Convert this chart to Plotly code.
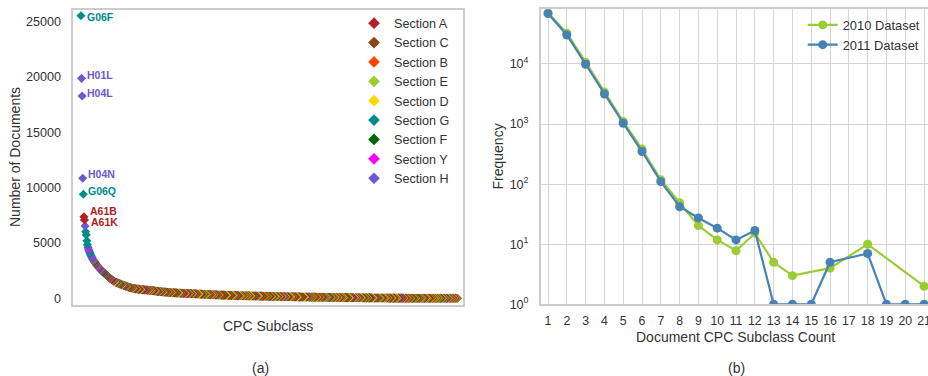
import plotly.graph_objects as go

# ---------------- data: panel (a) ----------------
subclass_counts = [
    25540, 19880, 18280, 10845, 9400, 7375, 7075, 6530, 6010, 5720, 5200, 4850, 4600, 4420, 4260, 4120, 4010, 3870, 3760, 3640,
    3540, 3460, 3380, 3310, 3230, 3150, 3070, 2990, 2920, 2860, 2790, 2730, 2660, 2600, 2550, 2500, 2450, 2400, 2350, 2300,
    2250, 2200, 2150, 2110, 2060, 2010, 1950, 1900, 1860, 1820, 1780, 1740, 1700, 1660, 1620, 1580, 1540, 1500, 1480, 1455,
    1435, 1415, 1390, 1370, 1345, 1320, 1300, 1280, 1260, 1240, 1220, 1200, 1180, 1160, 1140, 1120, 1100, 1080, 1060, 1040,
    1020, 1000, 985, 970, 955, 940, 925, 912, 900, 890, 880, 872, 864, 856, 848, 841, 834, 827, 820, 813,
    806, 800, 794, 788, 782, 776, 770, 765, 760, 755, 752, 750, 745, 740, 735, 730, 725, 720, 715, 710,
    705, 698, 690, 683, 675, 668, 660, 653, 645, 638, 630, 623, 615, 608, 600, 596, 592, 588, 584, 580,
    576, 571, 566, 561, 556, 551, 546, 541, 536, 531, 527, 523, 519, 515, 512, 508, 505, 502, 499, 496,
    493, 490, 487, 484, 481, 478, 475, 472, 469, 466, 463, 460, 457, 454, 451, 448, 445, 442, 439, 436,
    434, 432, 430, 428, 426, 424, 422, 420, 418, 416, 414, 412, 410, 407, 404, 401, 398, 395, 392, 389,
    386, 383, 380, 377, 374, 371, 368, 365, 362, 359, 356, 353, 350, 347, 344, 341, 338, 335, 333, 331,
    329, 327, 325, 323, 321, 319, 317, 315, 313, 311, 309, 307, 305, 303, 301, 299, 297, 295, 293, 291,
    289, 287, 285, 283, 281, 279, 277, 275, 273, 271, 269, 267, 265, 263, 261, 259, 257, 255, 253, 251,
    249, 247, 245, 243, 241, 239, 237, 236, 235, 234, 233, 232, 231, 230, 229, 228, 227, 226, 225, 224,
    223, 222, 221, 220, 219, 218, 217, 216, 215, 214, 213, 212, 211, 210, 209, 208, 207, 206, 205, 204,
    203, 202, 200, 199, 198, 196, 195, 194, 192, 191, 190, 188, 187, 186, 185, 183, 182, 181, 180, 178,
    177, 176, 175, 174, 172, 171, 170, 169, 168, 167, 165, 164, 163, 162, 161, 160, 159, 158, 157, 156,
    155, 154, 153, 152, 151, 150, 149, 148, 147, 146, 145, 144, 143, 142, 141, 140, 139, 138, 137, 136,
    135, 134, 133, 132, 131, 130, 129, 129, 128, 127, 126, 125, 124, 123, 123, 122, 121, 120, 119, 118,
    117, 117, 116, 115, 114, 113, 112, 112, 111, 110, 109, 108, 107, 107, 106, 105, 104, 103, 103, 102,
    101, 100, 99, 99, 98, 97, 96, 95, 95, 94, 93, 92, 91, 91, 90, 89, 88, 87, 87, 86,
    85, 84, 84, 83, 82, 81, 80, 80, 79, 78, 77, 77, 76, 75, 74, 74, 73, 72, 71, 71,
    70, 69, 68, 68, 67, 66, 66, 65, 64, 63, 63, 62, 61, 61, 60, 59, 58, 58, 57, 56,
    56, 55, 54, 54, 53, 52, 52, 51, 50, 50, 49, 48, 48, 47, 46, 46, 45, 44, 44, 43,
    42, 42, 41, 41, 40, 39, 39, 38, 38, 37, 36, 36, 35, 35, 34, 33, 33, 32, 32, 31,
    31, 30, 30, 29, 29, 28, 28, 27, 27, 26, 26, 25, 25, 24, 24, 23, 23, 22, 22, 21,
    21, 21, 20, 20, 19, 19, 19, 18, 18, 17, 17, 17, 16, 16, 16, 15, 15, 15, 14, 14,
    14, 13, 13, 13, 12, 12, 12, 12, 11, 11, 11, 10, 10, 10, 10, 9, 9, 9, 9, 8,
    8, 8, 8, 8, 7, 7, 7, 7, 7, 6, 6, 6, 6, 6, 6, 5, 5, 5, 5, 5,
    5, 5, 4, 4, 4, 4, 4, 4, 4, 3, 3, 3, 3, 3, 3, 3, 3, 3, 2, 2,
    2, 2, 2, 2, 2, 2, 2, 2, 2, 2, 2, 1, 1, 1, 1, 1, 1, 1, 1, 1,
    1, 1, 1, 1, 1, 1, 1, 1, 1, 1, 1, 1, 1, 1, 1, 1, 1, 1, 1, 1,
]

subclass_sections = (
    "GHHHGAAHGG" "GGHYGGGHYG" "HBGAHCGBHY" "GAHBGCHFGA"
    "BAGCHFBGAB" "YCFHBGADBC" "FEGBAHFBCG" "DABFHCBGEA"
    "FBCABGFDBH" "CAFBEBGCFA" "BDHBCFAGBY" "FBCADBFGEB"
    "CBFAHBDCBF" "GABECFBHAD" "BFCGBAFEBC" "HBFDABGCFB"
    "ABFCEBDGFB" "HCABFBYDCA" "FBGBEAFCBD" "HFBACGBFEB"
    "DCBFAGBEFC" "BEADFBCGBA" "FDBHCBEFAB" "GCBFDABCFC"
    "BAFGCBEDBF" "CABCFBGDAE" "BFCBHAFGBD" "CBEFABCDFB"
    "GADBFCBEDA" "FBCGBFAHBC" "DEBFABGCFB" "ADCBCFEBGA"
    "FBCDBAGFEB" "ECBFADBGCF" "BEYBHFCDBG" "AFBCEBDFAB"
    "BCGFBADECB" "FCBAGCFBDB" "EAFCBGHBFD" "CABEFBGACB"
    "DFBCAECBGF" "BCADFBEHGB" "CFABDCGBFE" "ADBCFBDAGB"
    "FCEBADGBFC" "CBAFDEBGCB" "FAHBDYFBEG" "ABCFDBEAFB"
    "GCEBFADBCF" "FBGAEDCBFB" "AHCGBFDEAB" "CFBGEADBCF"
    "BEAGFCBDCB" "AFCEBGDBFA" "CHBFYGABDC" "FBAEBGCBFD"
    "ABCFGEBFDA" "FBCBGADFEB" "HCAFBDGBEC" "FABBCDFBGE"
    "BADCFEBGEA" "CFBDBAGHEC" "FBADYGBFEB" "ABCDFGBEAB"
)

section_order = ["A", "C", "B", "E", "D", "G", "F", "Y", "H"]
section_colors = {
    "A": "#B22222", "C": "#8B4513", "B": "#FF4500", "E": "#9ACD32", "D": "#FFD700",
    "G": "#008B8B", "F": "#006400", "Y": "#FF00FF", "H": "#6A5ACD",
}

label_names = ["G06F", "H01L", "H04L", "H04N", "G06Q", "A61B", "A61K"]
label_ranks = [0, 1, 2, 3, 4, 5, 6]

# ---------------- data: panel (b) ----------------
count_2010_x = [1, 2, 3, 4, 5, 6, 7, 8, 9, 10, 11, 12, 13, 14, 16, 18, 21]
freq_2010 = [71000, 32600, 10700, 3400, 1100, 383, 118, 49, 20.4, 11.8, 7.8, 15.3, 5, 3, 4, 10, 2]
count_2011_x = [1, 2, 3, 4, 5, 6, 7, 8, 9, 10, 11, 12, 13, 14, 15, 16, 18, 19, 20, 21]
freq_2011 = [69000, 30400, 9900, 3160, 1030, 349, 110, 42, 27.4, 18.5, 11.8, 16.9, 1, 1, 1, 5, 7, 1, 1, 1]
count_ticks = list(range(1, 22))
freq_tickvals = [1, 10, 100, 1000, 10000]
freq_ticktext = ["10<sup>0</sup>", "10<sup>1</sup>", "10<sup>2</sup>", "10<sup>3</sup>", "10<sup>4</sup>"]
doc_tickvals = [0, 5000, 10000, 15000, 20000, 25000]

FONT = "Liberation Sans, Arial, Helvetica, sans-serif"
TXT = "#333333"
W, H = 928, 376

fig = go.Figure()

n = min(len(subclass_counts), len(subclass_sections))
# drawn from the smallest subclass to the largest, so the left points sit on top
order = list(range(n - 1, -1, -1))
fig.add_trace(go.Scatter(
    x=order, y=[subclass_counts[i] for i in order], mode="markers", xaxis="x", yaxis="y",
    marker=dict(symbol="diamond", size=7,
                color=[section_colors[subclass_sections[i]] for i in order]),
    text=["Section " + subclass_sections[i] for i in order],
    showlegend=False, hoverinfo="x+y+text", name="subclasses",
))
# legend entries for panel (a)
for sec in section_order:
    fig.add_trace(go.Scatter(
        x=[None], y=[None], mode="markers", xaxis="x", yaxis="y",
        marker=dict(symbol="diamond", size=9, color=section_colors[sec]),
        name="Section " + sec, legend="legend",
    ))

fig.add_trace(go.Scatter(
    x=count_2010_x, y=freq_2010, mode="lines+markers", xaxis="x2", yaxis="y2",
    line=dict(color="#9ACD32", width=2.2), marker=dict(size=9, color="#9ACD32"),
    name="2010 Dataset", legend="legend2",
))
fig.add_trace(go.Scatter(
    x=count_2011_x, y=freq_2011, mode="lines+markers", xaxis="x2", yaxis="y2",
    line=dict(color="#4682B4", width=2.2), marker=dict(size=9, color="#4682B4"),
    name="2011 Dataset", legend="legend2",
))

annotations = []
label_shift = {
    "G06F": (4, -1), "H01L": (3, 3), "H04L": (3, 3), "H04N": (3, 4),
    "G06Q": (3, 3.5), "A61B": (4, 5.5), "A61K": (4, -1.5),
}
for name, rank in zip(label_names, label_ranks):
    dx, dy = label_shift[name]
    annotations.append(dict(
        x=rank, y=subclass_counts[rank], xref="x", yref="y", text="<b>%s</b>" % name,
        showarrow=False, xanchor="left", yanchor="middle", xshift=dx, yshift=dy,
        font=dict(family=FONT, size=10.5, color=section_colors[name[0]]),
    ))


def px_x(p):
    # p: window pixel from the left edge
    return p / W


def px_y(p):
    # p: window pixel from the top edge
    return 1 - p / H


titles = [
    ("Number of Documents", 15, 157, -90),
    ("CPC Subclass", 268, 326, 0),
    ("(a)", 260, 368, 0),
    ("Frequency", 497.5, 157, -90),
    ("Document CPC Subclass Count", 735.7, 337.3, 0),
    ("(b)", 736.7, 368, 0),
]
for t, xx, yy, ang in titles:
    annotations.append(dict(
        x=px_x(xx), y=px_y(yy), xref="paper", yref="paper", text=t, showarrow=False,
        xanchor="center", yanchor="middle", textangle=ang,
        font=dict(family=FONT, size=14, color=TXT),
    ))

frame = dict(showline=True, mirror=True, linecolor="#CCCCCC", linewidth=1.5,
             zeroline=False, ticks="", automargin=False)

fig.update_layout(
    width=W, height=H,
    margin=dict(l=0, r=0, t=0, b=0, autoexpand=False),
    paper_bgcolor="white", plot_bgcolor="white",
    font=dict(family=FONT, size=12, color=TXT),
    xaxis=dict(domain=[px_x(73.3), px_x(463.3)], range=[-13, 648.8],
               showticklabels=False, showgrid=False, anchor="y", **frame),
    yaxis=dict(domain=[px_y(304.5), px_y(9.5)], range=[-560, 26100],
               tickvals=doc_tickvals, ticktext=[str(v) for v in doc_tickvals], showgrid=False,
               tickfont=dict(size=12.6, color=TXT), ticklabelstandoff=8, anchor="x", **frame),
    xaxis2=dict(domain=[px_x(540.7), 1.0], range=[0.61, 21.21], tickvals=count_ticks,
                showgrid=True, gridcolor="#D6D6D6", gridwidth=1.2, ticklabeloverflow="allow",
                tickfont=dict(size=12.3, color=TXT), ticklabelstandoff=4, anchor="y2", **frame),
    yaxis2=dict(domain=[px_y(304.3), px_y(9.3)], type="log", range=[0, 4.91],
                tickvals=freq_tickvals, ticktext=freq_ticktext,
                showgrid=True, gridcolor="#D6D6D6", gridwidth=1.2,
                tickfont=dict(size=12.5, color=TXT), ticklabelstandoff=8, anchor="x2", **frame),
    legend=dict(x=px_x(354), y=px_y(8.5), xanchor="left", yanchor="top",
                bgcolor="rgba(255,255,255,0)", font=dict(family=FONT, size=12.6, color=TXT),
                tracegroupgap=0),
    legend2=dict(x=px_x(802.7), y=px_y(10), xanchor="left", yanchor="top",
                 bgcolor="rgba(255,255,255,0)", font=dict(family=FONT, size=12.9, color=TXT)),
    annotations=annotations,
    showlegend=True,
)

# the page's default 8px body margin would push the fixed-size figure off the window
fig.write_html(
    "out.html",
    config={"displayModeBar": False},
    post_script="document.body.style.margin='0';document.body.style.overflow='hidden';",
)
